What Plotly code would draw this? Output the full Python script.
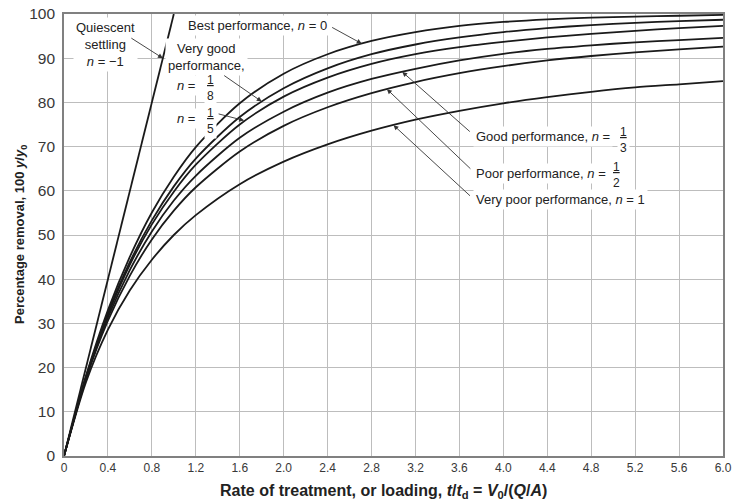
import plotly.graph_objects as go

# ---------------- data ----------------
t_vals = [0, 0.2, 0.4, 0.6, 0.8, 1.0, 1.2, 1.6, 2.0, 2.4, 2.8, 3.2, 3.6, 4.0, 4.4, 4.8, 5.2, 5.6, 6.0]

best_n0 = [0, 18.1, 33.0, 45.1, 55.1, 63.2, 69.9, 79.8, 86.5, 90.9, 93.9, 95.9, 97.3, 98.2, 98.8, 99.2, 99.4, 99.6, 99.8]
vgood_n18 = [0, 17.9, 32.3, 43.9, 53.3, 61.0, 67.3, 76.7, 83.2, 87.7, 90.9, 93.1, 94.7, 95.9, 96.8, 97.5, 98.0, 98.4, 98.7]
vgood_n15 = [0, 17.8, 31.9, 43.3, 52.4, 59.8, 65.9, 75.0, 81.3, 85.6, 88.7, 90.9, 92.5, 93.7, 94.7, 95.5, 96.2, 96.8, 97.3]
good_n13 = [0, 17.6, 31.3, 42.1, 50.8, 57.8, 63.4, 72.0, 77.9, 82.2, 85.3, 87.6, 89.5, 91.0, 92.1, 92.9, 93.6, 94.1, 94.6]
poor_n12 = [0, 17.4, 30.6, 40.8, 49.0, 55.5, 60.8, 68.9, 74.7, 78.9, 82.1, 84.6, 86.6, 88.2, 89.5, 90.5, 91.3, 92.0, 92.6]
vpoor_n1 = [0, 16.7, 28.6, 37.5, 44.4, 50.0, 54.5, 61.5, 66.6, 70.5, 73.6, 76.1, 78.1, 79.8, 81.2, 82.4, 83.4, 84.1, 84.8]

quiescent_t = [0, 1.0]
quiescent_y = [0, 100]

x_tickvals = [0, 0.4, 0.8, 1.2, 1.6, 2.0, 2.4, 2.8, 3.2, 3.6, 4.0, 4.4, 4.8, 5.2, 5.6, 6.0]
x_ticktext = ["0", "0.4", "0.8", "1.2", "1.6", "2.0", "2.4", "2.8", "3.2", "3.6", "4.0",
              "4.4", "4.8", "5.2", "5.6", "6.0"]
y_tickvals = [0, 10, 20, 30, 40, 50, 60, 70, 80, 90, 100]

FONT = "Liberation Sans, Arial, sans-serif"
TXT = "#222222"

fig = go.Figure()
line_style = dict(color="#1a1a1a", width=1.8)
for ys in [vpoor_n1, poor_n12, good_n13, vgood_n15, vgood_n18, best_n0]:
    fig.add_trace(go.Scatter(x=t_vals, y=ys, mode="lines", line=dict(shape="spline", smoothing=0.8, **line_style),
                             showlegend=False, hoverinfo="skip"))
fig.add_trace(go.Scatter(x=quiescent_t, y=quiescent_y, mode="lines", line=line_style,
                         showlegend=False, hoverinfo="skip"))

ann = []

def label(x, y, text, size=13, xanchor="center", bg="white"):
    ann.append(dict(x=x, y=y, xref="x", yref="y", text=text, showarrow=False,
                    xanchor=xanchor, yanchor="middle", bgcolor=bg, borderpad=2,
                    font=dict(family=FONT, size=size, color=TXT), align="center"))

def arrow(x, y, ax, ay):
    ann.append(dict(x=x, y=y, xref="x", yref="y", text="", showarrow=True,
                    ax=ax, ay=ay, arrowhead=2, arrowsize=1.1, arrowwidth=0.9,
                    arrowcolor="#333333", standoff=0))

# Quiescent settling
label(0.38, 93.0, "Quiescent<br>settling<br><i>n</i> = −1")
arrow(0.9, 90.0, -33, -21)
# Best performance
label(1.76, 97.5, "Best performance, <i>n</i> = 0")
arrow(2.71, 93.3, -31, -17)
# Very good performance
label(1.295, 90.3, "Very good<br>performance,")
label(1.222, 83.8, "<i>n</i> =", xanchor="right")
label(1.331, 83.3, "<u>1</u><br>8", size=12)
label(1.222, 76.4, "<i>n</i> =", xanchor="right")
label(1.331, 75.9, "<u>1</u><br>5", size=12)
arrow(1.8, 80.2, -39, -27)
arrow(1.64, 75.9, -27, -7)
# Right-side labels
label(3.72, 72.2, "Good performance, <i>n</i> =", xanchor="left")
label(5.09, 71.6, "<u>1</u><br>3", size=12)
arrow(3.08, 86.9, 69, 61)
label(3.72, 64.0, "Poor performance, <i>n</i> =", xanchor="left")
label(5.03, 63.5, "<u>1</u><br>2", size=12)
arrow(2.94, 83.0, 85, 81)
label(3.72, 58.1, "Very poor performance, <i>n</i> = 1", xanchor="left")
arrow(3.0, 74.85, 78, 72)

# axis titles
ann.append(dict(x=(383 - 64) / 659, y=-36 / 442, xref="paper", yref="paper",
                text="<b>Rate of treatment, or loading, <i>t</i>/<i>t</i><sub>d</sub> = <i>V</i><sub>0</sub>/(<i>Q</i>/<i>A</i>)</b>",
                showarrow=False, xanchor="center", yanchor="middle",
                font=dict(family=FONT, size=16, color=TXT)))
ann.append(dict(x=(20 - 64) / 659, y=0.5, xref="paper", yref="paper", textangle=-90,
                text="<b>Percentage removal, 100 <i>y</i>/<i>y</i><sub>0</sub></b>",
                showarrow=False, xanchor="center", yanchor="middle",
                font=dict(family=FONT, size=13, color=TXT)))

fig.update_layout(
    template="none",
    width=733, height=504,
    margin=dict(l=64, r=10, t=14, b=48, autoexpand=False),
    paper_bgcolor="white", plot_bgcolor="white",
    annotations=ann,
    xaxis=dict(range=[0, 6.0], tickvals=x_tickvals, ticktext=x_ticktext, automargin=False,
               showgrid=True, gridcolor="#bdbdbd", gridwidth=1.3,
               showline=True, linecolor="#808080", linewidth=1.6, mirror=True,
               ticks="", zeroline=False,
               tickfont=dict(family=FONT, size=12, color="#383838")),
    yaxis=dict(range=[0, 100], tickvals=y_tickvals, automargin=False,
               showgrid=True, gridcolor="#bdbdbd", gridwidth=1.3,
               showline=True, linecolor="#808080", linewidth=1.6, mirror=True,
               ticks="", zeroline=False, ticklabelstandoff=4,
               tickfont=dict(family=FONT, size=15.5, color="#383838")),
)

fig.write_html("out.html", config={"displayModeBar": False},
               post_script="document.body.style.margin='0';document.body.style.padding='0';"
                           "document.body.style.overflow='hidden';")
